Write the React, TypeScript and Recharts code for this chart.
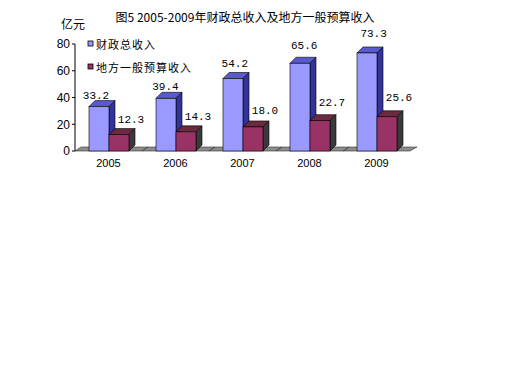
import { BarChart, Bar, XAxis, YAxis, LabelList, Customized } from 'recharts'

// 图5 2005-2009年财政总收入及地方一般预算收入 (亿元)
const years = ['2005', '2006', '2007', '2008', '2009']
const totalRevenue = [33.2, 39.4, 54.2, 65.6, 73.3]
const localRevenue = [12.3, 14.3, 18.0, 22.7, 25.6]
const yTicks = [0, 20, 40, 60, 80]
const seriesNames = ['财政总收入', '地方一般预算收入']

const data = years.map((year, i) => ({
  year,
  total: totalRevenue[i],
  local: localRevenue[i],
}))

// layout
const W = 512
const H = 384
const PLOT_LEFT = 75
const PLOT_RIGHT = 410
const PLOT_BOTTOM = 151
const DX = 6
const DY = 6

const CJK = '"Noto Sans CJK SC", "Noto Sans", sans-serif'

const blue = { front: '#9999ff', top: '#5a5ad0', side: '#333399' }
const wine = { front: '#993366', top: '#6b2a40', side: '#3a3a3a' }

function Box3D(props: any) {
  const { x, y, width, height, colors } = props
  if (height == null || height <= 0) return null
  const r = x + width
  const b = y + height
  return (
    <g stroke="#000" strokeWidth={0.6}>
      <polygon
        points={`${x},${y} ${x + DX},${y - DY} ${r + DX},${y - DY} ${r},${y}`}
        fill={colors.top}
      />
      <polygon
        points={`${r},${y} ${r + DX},${y - DY} ${r + DX},${b - DY} ${r},${b}`}
        fill={colors.side}
      />
      <rect x={x} y={y} width={width} height={height} fill={colors.front} />
    </g>
  )
}

// floor, titles and legend
function Decor() {
  const band = (PLOT_RIGHT - PLOT_LEFT) / years.length
  const legendColors = [blue.front, wine.front]
  return (
    <g>
      <polygon
        points={`${PLOT_LEFT},${PLOT_BOTTOM} ${PLOT_LEFT + 6},${PLOT_BOTTOM - 4} ${PLOT_RIGHT + 7},${PLOT_BOTTOM - 4} ${PLOT_RIGHT},${PLOT_BOTTOM}`}
        fill="#8c8c8c"
        stroke="#333"
        strokeWidth={0.6}
      />
      {years.slice(1).map((_, i) => {
        const x = PLOT_LEFT + band * (i + 1)
        return <line key={i} x1={x} y1={PLOT_BOTTOM} x2={x + 6} y2={PLOT_BOTTOM - 4} stroke="#333" strokeWidth={0.8} />
      })}
      <text x={245} y={22} textAnchor="middle" fontSize={12} fontFamily={CJK} fill="#000">
        图5 2005-2009年财政总收入及地方一般预算收入
      </text>
      <text x={61} y={29} fontSize={12} fontFamily={CJK} fill="#000">
        亿元
      </text>
      {seriesNames.map((name, i) => (
        <g key={name}>
          <rect x={88} y={41 + i * 23} width={5} height={5} fill={legendColors[i]} stroke="#000" strokeWidth={0.8} />
          <text x={96} y={44 + i * 23} dominantBaseline="central" fontSize={11} fontFamily={CJK} letterSpacing={1} fill="#000">
            {name}
          </text>
        </g>
      ))}
    </g>
  )
}

function blueLabel(p: any) {
  const { x, y, width, value, index } = p
  return (
    <text
      x={x + width / 2 - 3 + index * 2.4}
      y={y - (3 + 0.22 * value)}
      textAnchor="middle"
      dominantBaseline="central"
      fontSize={11}
      fontFamily='"Liberation Mono", monospace'
      fill="#000"
    >
      {value.toFixed(1)}
    </text>
  )
}

function wineLabel(p: any) {
  const { x, y, width, value } = p
  return (
    <text
      x={x + width / 2 + 12}
      y={y - (10 + 0.35 * value)}
      textAnchor="middle"
      dominantBaseline="central"
      fontSize={11}
      fontFamily='"Liberation Mono", monospace'
      fill="#000"
    >
      {value.toFixed(1)}
    </text>
  )
}

export default function App() {
  return (
    <div style={{ position: 'absolute', left: 0, top: 0, width: W, height: H, background: '#fff' }}>
      <BarChart
        width={W}
        height={H}
        data={data}
        margin={{ top: 44, right: W - PLOT_RIGHT, bottom: H - PLOT_BOTTOM - 20, left: 0 }}
        barGap={0}
        barCategoryGap={14}
      >
        <Customized component={Decor} />
        <XAxis
          dataKey="year"
          height={20}
          axisLine={false}
          tickLine={false}
          tick={{ fontSize: 11, fill: '#000', fontFamily: '"Liberation Sans", Arial, sans-serif' }}
        />
        <YAxis
          width={PLOT_LEFT}
          domain={[0, 80]}
          ticks={yTicks}
          interval={0}
          tickSize={3}
          axisLine={{ stroke: '#000' }}
          tickLine={{ stroke: '#000' }}
          tick={{ fontSize: 12, fill: '#000', fontFamily: '"Liberation Sans", Arial, sans-serif' }}
        />
        <Bar dataKey="total" name={seriesNames[0]} isAnimationActive={false} shape={(p: any) => <Box3D {...p} colors={blue} />}>
          <LabelList dataKey="total" content={blueLabel} />
        </Bar>
        <Bar dataKey="local" name={seriesNames[1]} isAnimationActive={false} shape={(p: any) => <Box3D {...p} colors={wine} />}>
          <LabelList dataKey="local" content={wineLabel} />
        </Bar>
      </BarChart>
    </div>
  )
}
